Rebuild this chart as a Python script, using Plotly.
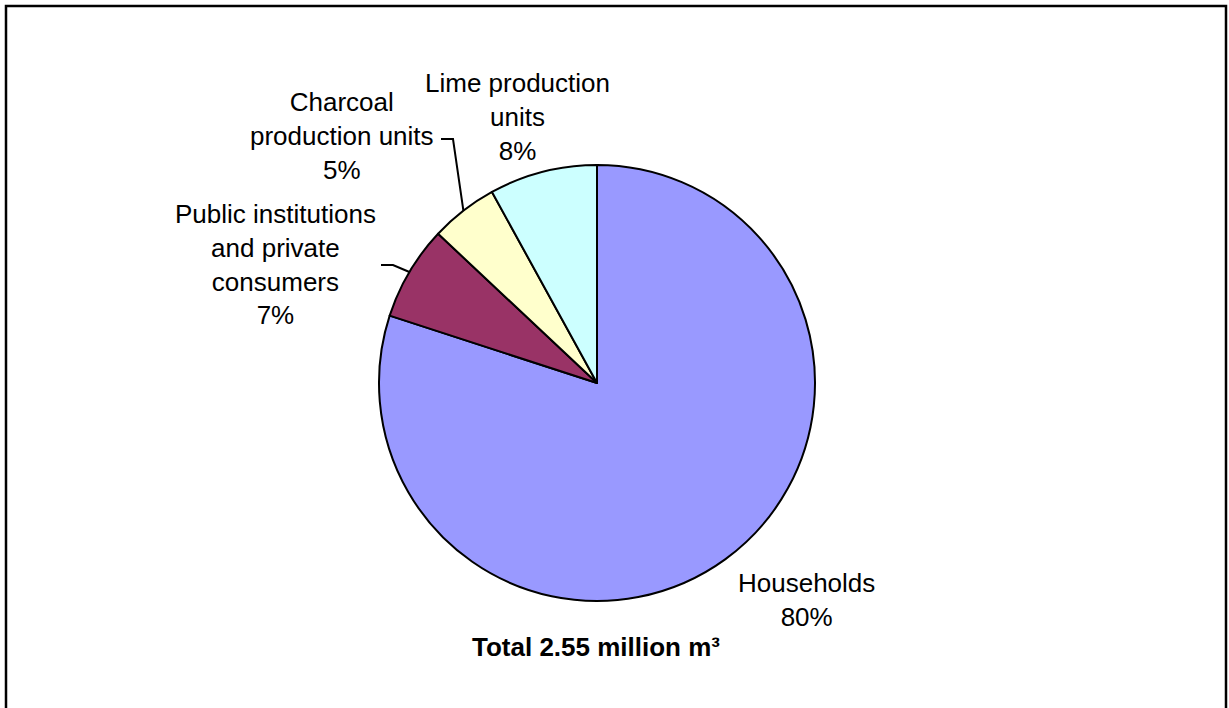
import math
import plotly.graph_objects as go

# ---- data -------------------------------------------------------------
categories = [
    "Households",
    "Public institutions and private consumers",
    "Charcoal production units",
    "Lime production units",
]
shares = [80, 7, 5, 8]
label_lines = [
    ["Households"],
    ["Public institutions", "and private", "consumers"],
    ["Charcoal", "production units"],
    ["Lime production", "units"],
]
slice_colors = ["#9999FF", "#993366", "#FFFFCC", "#CCFFFF"]
total_text = "Total 2.55 million m³"

# ---- layout geometry (pixels) -----------------------------------------
W, H = 1229, 708
CX, CY, R = 597, 383, 218          # pie centre and radius
FONT = "Arial, Liberation Sans, sans-serif"
FONT_SIZE = 26

# centre of each label's text block
label_pos = [(806, 600), (275, 264), (342, 136), (517, 117)]
# leader lines: knee point and end point next to the label text
leader_geom = {
    1: [(393, 265), (381, 265)],
    2: [(453, 139), (441, 139)],
}


def edge_point(angle_deg):
    """Point on the pie rim, angle measured clockwise from 12 o'clock."""
    a = math.radians(angle_deg)
    return CX + R * math.sin(a), CY - R * math.cos(a)


total = sum(shares)
mid_angles = []
cum = 0
for v in shares:
    mid_angles.append(360.0 * (cum + v / 2) / total)
    cum += v

fig = go.Figure()

fig.add_trace(
    go.Pie(
        labels=categories,
        values=shares,
        sort=False,
        direction="clockwise",
        rotation=0,
        marker=dict(colors=slice_colors, line=dict(color="black", width=2)),
        textinfo="none",
        hoverinfo="label+percent",
        showlegend=False,
        domain=dict(
            x=[(CX - R) / W, (CX + R) / W],
            y=[1 - (CY + R) / H, 1 - (CY - R) / H],
        ),
    )
)

annotations = []
for i, lines in enumerate(label_lines):
    x, y = label_pos[i]
    annotations.append(
        dict(
            x=x, y=y, xref="x", yref="y",
            text="<br>".join(lines + [f"{shares[i]}%"]),
            showarrow=False,
            xanchor="center", yanchor="middle", align="center",
            font=dict(family=FONT, size=FONT_SIZE, color="black"),
        )
    )

annotations.append(
    dict(
        x=596, y=647, xref="x", yref="y",
        text=f"<b>{total_text}</b>",
        showarrow=False,
        xanchor="center", yanchor="middle",
        font=dict(family=FONT, size=FONT_SIZE, color="black"),
    )
)

shapes = []
for i, pts in leader_geom.items():
    ex, ey = edge_point(mid_angles[i])
    path_pts = [(ex, ey)] + pts
    path = "M " + " L ".join(f"{px:.1f},{py:.1f}" for px, py in path_pts)
    shapes.append(
        dict(type="path", path=path, xref="x", yref="y",
             line=dict(color="black", width=2))
    )

# chart frame (bottom edge runs past the page)
shapes.append(
    dict(type="rect", x0=6, y0=6, x1=1226, y1=730, xref="x", yref="y",
         line=dict(color="black", width=2.5), fillcolor="rgba(0,0,0,0)")
)

fig.update_layout(
    width=W, height=H,
    margin=dict(l=0, r=0, t=0, b=0),
    paper_bgcolor="white",
    plot_bgcolor="rgba(0,0,0,0)",
    xaxis=dict(range=[0, W], visible=False, fixedrange=True),
    yaxis=dict(range=[H, 0], visible=False, fixedrange=True),
    annotations=annotations,
    shapes=shapes,
)

fig.write_html("out.html")
